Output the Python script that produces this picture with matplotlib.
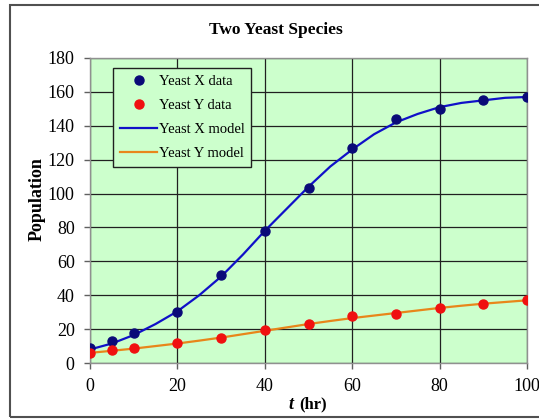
import matplotlib
matplotlib.use("Agg")
import matplotlib.pyplot as plt
from matplotlib.patches import Rectangle

t_data = [0, 5, 10, 20, 30, 40, 50, 60, 70, 80, 90, 100]
x_data = [9, 13, 18, 30, 52, 78, 103, 127, 144, 150, 155, 157]
y_data = [6, 7.5, 9, 12, 15, 19.5, 23, 27.5, 29, 32.5, 35, 37]

t_model = [0, 5, 10, 15, 20, 25, 30, 35, 40, 45, 50, 55, 60, 65, 70, 75, 80, 85, 90, 95, 100]
x_model = [8, 11.5, 16.5, 23, 30.5, 40, 51, 64, 78, 91, 104, 116, 126, 135, 142, 147, 151,
           153.5, 155, 156.5, 157]
y_model = [6, 7.2, 8.5, 10, 11.5, 13.2, 15, 17, 19, 21, 23, 24.8, 26.5, 28, 29.5, 31,
           32.5, 33.8, 35, 36, 37]

xticks = [0, 20, 40, 60, 80, 100]
yticks = [0, 20, 40, 60, 80, 100, 120, 140, 160, 180]

plt.rcParams['font.family'] = ['Liberation Serif', 'DejaVu Serif']

fig = plt.figure(figsize=(5.39, 4.19), dpi=100)
fig.patch.set_facecolor('white')
W, H = 539, 419
ax = fig.add_axes([90 / W, 1 - 363 / H, (527 - 90) / W, (363 - 58) / H])
ax.set_facecolor('#CCFFCC')

ax.plot(t_model, x_model, color='#1010C8', lw=1.6, label='Yeast X model', zorder=3)
ax.plot(t_model, y_model, color='#E8861A', lw=1.6, label='Yeast Y model', zorder=3)
ax.plot(t_data, x_data, 'o', color='#0A0A78', ms=6.5, label='Yeast X data', zorder=4)
ax.plot(t_data, y_data, 'o', color='#F01010', ms=6.5, label='Yeast Y data', zorder=4)

ax.set_xlim(0, 100)
ax.set_ylim(0, 180)
ax.set_xticks(xticks)
ax.set_yticks(yticks)
ax.grid(True, color='#202020', lw=0.9)
ax.set_axisbelow(True)
for s in ax.spines.values():
    s.set_color('#909090')
    s.set_linewidth(1.0)
ax.tick_params(axis='both', labelsize=13, direction='out', length=4, color='#606060',
               width=1.0)
ax.tick_params(axis='x', pad=7)
ax.tick_params(axis='y', pad=7)

fig.text(37 / W, 1 - 199 / H, 'Population', fontsize=13, fontweight='bold',
         rotation=90, ha='center', va='center')
fig.text(291 / W, 1 - 404 / H, 't', fontsize=13, fontweight='bold', style='italic',
         ha='center', va='center')
fig.text(313 / W, 1 - 404 / H, '(hr)', fontsize=12, fontweight='bold',
         ha='center', va='center')

fig.text(276 / W, 1 - 30 / H, 'Two Yeast Species', fontsize=12.5, fontweight='bold',
         ha='center', va='center')

handles, labels = ax.get_legend_handles_labels()
order = [2, 3, 0, 1]
leg = ax.legend([handles[i] for i in order], [labels[i] for i in order],
                loc='upper left', bbox_to_anchor=((113 - 90) / (527 - 90), (363 - 68) / (363 - 58)),
                fontsize=10.5, frameon=True, fancybox=False, framealpha=1,
                facecolor='#CCFFCC', edgecolor='#202020', handlelength=2.6,
                handletextpad=0.1, borderpad=0.45, labelspacing=0.75, borderaxespad=0)
leg.get_frame().set_linewidth(1.0)

fig.patches.append(Rectangle((10 / W, 1 - 417 / H), (560 - 10) / W, (417 - 5) / H,
                             transform=fig.transFigure, fill=False, edgecolor='#505050',
                             lw=1.5))

fig.savefig('out.png', dpi=100)
